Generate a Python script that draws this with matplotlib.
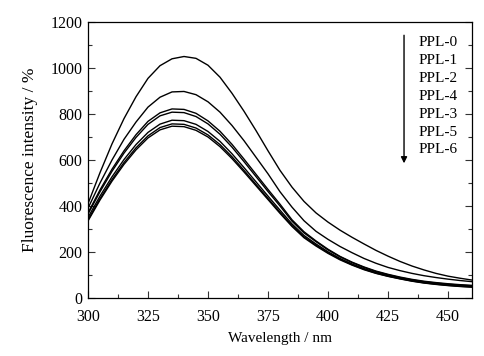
import matplotlib
matplotlib.use("Agg")
import matplotlib.pyplot as plt
from matplotlib.ticker import MultipleLocator

wavelength = [300, 305, 310, 315, 320, 325, 330, 335, 340, 345, 350, 355, 360, 365, 370,
              375, 380, 385, 390, 395, 400, 405, 410, 415, 420, 425, 430, 435, 440, 445,
              450, 455, 460]

ppl0 = [410, 545, 670, 780, 875, 955, 1010, 1040, 1050, 1042, 1012, 960, 890, 812, 728,
        640, 555, 482, 420, 370, 330, 295, 264, 235, 207, 182, 159, 139, 122, 107, 95, 86, 78]
ppl1 = [390, 500, 600, 690, 765, 830, 873, 896, 898, 884, 853, 808, 750, 684, 612,
        540, 462, 395, 336, 290, 255, 224, 197, 172, 151, 133, 119, 107, 97, 89, 82, 76, 71]
ppl2 = [370, 470, 560, 640, 710, 768, 805, 822, 820, 803, 770, 725, 668, 604, 538,
        472, 408, 340, 288, 248, 212, 181, 156, 135, 117, 103, 91, 81, 73, 67, 62, 58, 55]
ppl4 = [365, 462, 551, 630, 698, 755, 792, 808, 806, 789, 757, 712, 656, 593, 528,
        463, 400, 334, 283, 245, 209, 179, 154, 133, 115, 101, 89, 79, 71, 65, 60, 56, 53]
ppl3 = [350, 443, 527, 602, 667, 720, 756, 773, 771, 755, 724, 681, 627, 567, 505,
        443, 382, 322, 272, 235, 201, 172, 148, 128, 111, 97, 86, 76, 68, 62, 57, 53, 50]
ppl5 = [340, 432, 515, 589, 653, 705, 741, 757, 755, 739, 709, 667, 614, 555, 494,
        433, 373, 315, 266, 230, 197, 169, 145, 125, 108, 95, 84, 74, 66, 60, 55, 51, 48]
ppl6 = [335, 426, 508, 581, 644, 696, 731, 747, 745, 729, 700, 658, 606, 548, 488,
        428, 368, 311, 262, 226, 194, 166, 143, 123, 107, 94, 83, 73, 65, 59, 54, 50, 47]

labels = ["PPL-0", "PPL-1", "PPL-2", "PPL-4", "PPL-3", "PPL-5", "PPL-6"]
series = [ppl0, ppl1, ppl2, ppl4, ppl3, ppl5, ppl6]

plt.rcParams['font.family'] = ['Liberation Serif', 'DejaVu Serif']

fig = plt.figure(figsize=(4.85, 3.56), dpi=100)
ax = fig.add_axes([88/485, 58/356, 384/485, 276/356])

for s in series:
    ax.plot(wavelength, s, color='black', lw=1.0)

ax.set_xlim(300, 460)
ax.set_ylim(0, 1200)
ax.xaxis.set_major_locator(MultipleLocator(25))
ax.xaxis.set_minor_locator(MultipleLocator(12.5))
ax.yaxis.set_major_locator(MultipleLocator(200))
ax.yaxis.set_minor_locator(MultipleLocator(100))
ax.tick_params(which='both', direction='in', top=False, right=True, labelsize=11.5,
               width=0.8, color='#333333')
ax.tick_params(which='major', length=5)
ax.tick_params(which='minor', length=3)
ax.tick_params(axis='x', pad=8)
ax.tick_params(axis='y', pad=4)
for sp in ax.spines.values():
    sp.set_linewidth(0.9)

ax.set_xlabel("Wavelength / nm", fontsize=11, labelpad=5)
ax.set_ylabel("Fluorescence intensity / %", fontsize=12.5, labelpad=9)

# legend-like labels with arrow
ax.annotate("", xy=(0.823, 0.478), xytext=(0.823, 0.962), xycoords='axes fraction',
            arrowprops=dict(arrowstyle='-|>', lw=1.0, color='black', mutation_scale=9))
y0 = (298 - 43) / 276
dy = 17.8 / 276
for i, lab in enumerate(labels):
    ax.text(0.862, y0 - i * dy, lab, transform=ax.transAxes, fontsize=11,
            va='center', ha='left')

fig.savefig("out.png", dpi=100)
